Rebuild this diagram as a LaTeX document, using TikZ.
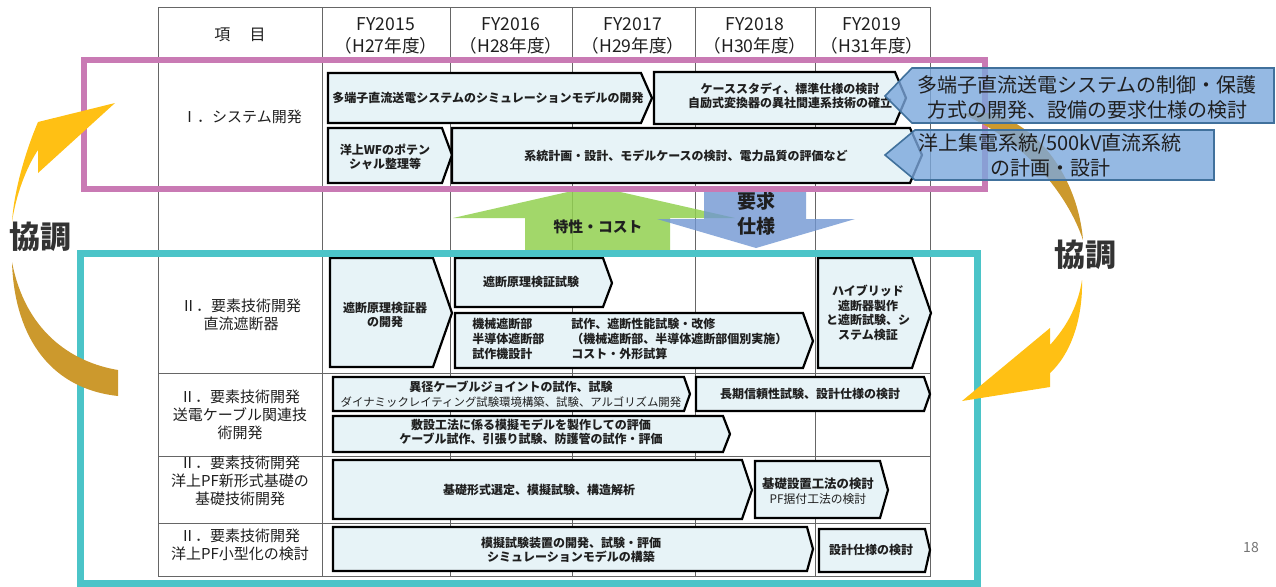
\documentclass[tikz,border=0pt]{standalone}
\usepackage{fontspec}
\setmainfont{Noto Sans CJK JP}
\definecolor{barfill}{RGB}{231,243,247}
\definecolor{purpleframe}{RGB}{201,122,180}
\definecolor{tealframe}{RGB}{75,196,200}
\definecolor{greenarr}{RGB}{146,208,80}
\definecolor{bluearr}{RGB}{112,150,210}
\definecolor{callfill}{RGB}{123,167,220}
\definecolor{callline}{RGB}{65,113,156}
\definecolor{yellowarc}{RGB}{255,192,20}
\definecolor{brownarc}{RGB}{204,153,45}
\begin{document}
\begin{tikzpicture}[x=0.5pt, y=-0.5pt, line join=miter,
    every node/.style={inner sep=0pt, text=black!88},
    gridline/.style={black!60, line width=0.5pt},
    taskbar/.style={draw=black, line width=1.1pt, fill=barfill},
    bartxt/.style={font=\fontsize{6}{7.3}\selectfont\bfseries, align=center},
    hdrtxt/.style={font=\fontsize{8.8}{11}\selectfont, align=center},
    rowtxt/.style={font=\fontsize{7.5}{9}\selectfont, align=center},
    boxframe/.style={line width=3.2pt},
    calloutbox/.style={fill=callfill, fill opacity=0.8, draw=callline, line width=0.8pt},
    callouttxt/.style={font=\fontsize{10}{12.5}\selectfont, align=center},
    kyochotxt/.style={font=\fontsize{15.5}{16}\selectfont\bfseries, text=black!80}]

    \useasboundingbox (0,0) rectangle (1276,586);

    % ================= table grid =================
    \draw[gridline] (158,7) rectangle (930,576);
    \draw[gridline] (322,7) -- (322,576) (450,7) -- (450,576) (572,7) -- (572,576)
                    (695,7) -- (695,576) (815,7) -- (815,576);
    \draw[gridline] (158,62) -- (930,62) (158,190) -- (930,190) (158,253) -- (930,253)
                    (158,373) -- (930,373) (158,456) -- (930,456) (158,523) -- (930,523);

    % header
    \node[hdrtxt, font=\fontsize{8}{10}\selectfont] (item) at (240,35) {項\hspace{1.2em}目};
    \node[hdrtxt] (fy15) at (386,36) {FY2015\\（H27年度）};
    \node[hdrtxt] (fy16) at (511,36) {FY2016\\（H28年度）};
    \node[hdrtxt] (fy17) at (633,36) {FY2017\\（H29年度）};
    \node[hdrtxt] (fy18) at (755,36) {FY2018\\（H30年度）};
    \node[hdrtxt] (fy19) at (872,36) {FY2019\\（H31年度）};

    % row labels
    \node[rowtxt] (sysdev) at (242,117) {Ⅰ．システム開発};
    \node[rowtxt] (dcbreaker) at (241,315) {Ⅱ．要素技術開発\\直流遮断器};
    \node[rowtxt] (cable) at (240,415) {Ⅱ．要素技術開発\\送電ケーブル関連技\\術開発};
    \node[rowtxt] (pffound) at (240,481) {Ⅱ．要素技術開発\\洋上PF新形式基礎の\\基礎技術開発};
    \node[rowtxt] (pfsmall) at (240,545) {Ⅱ．要素技術開発\\洋上PF小型化の検討};

    % ================= arrows between the two frames =================
    \fill[greenarr, fill opacity=0.85] (525,250) -- (525,218) -- (453,218) -- (594,186)
        -- (735,218) -- (670,218) -- (670,250) -- cycle;
    \fill[bluearr, fill opacity=0.8] (704,192) -- (806,192) -- (806,219) -- (855,219)
        -- (756,248) -- (657,219) -- (704,219) -- cycle;
    \node[font=\fontsize{7.4}{9}\selectfont\bfseries] (cost) at (598,227) {特性・コスト};
    \node[font=\fontsize{9.5}{12.5}\selectfont\bfseries, align=center] (reqspec) at (756,214) {要求\\仕様};

    % ================= I. system development =================
    \draw[taskbar] (328,73) -- (641,73) -- (652,98) -- (641,123) -- (328,123) -- cycle;
    \node[bartxt] (simmodel) at (488,98) {多端子直流送電システムのシミュレーションモデルの開発};
    \draw[taskbar] (654,72) -- (895,72) -- (906,98) -- (895,124) -- (654,124) -- cycle;
    \node[bartxt] (casestudy) at (790,96) {ケーススタディ、標準仕様の検討\\自励式変換器の異社間連系技術の確立};
    \draw[taskbar] (328,128) -- (442,128) -- (452,155) -- (442,183) -- (328,183) -- cycle;
    \node[bartxt] (wfpot) at (385,157) {洋上WFのポテン\\シャル整理等};
    \draw[taskbar] (452,128) -- (910,128) -- (922,155) -- (910,183) -- (452,183) -- cycle;
    \node[bartxt] (sysplan) at (686,156) {系統計画・設計、モデルケースの検討、電力品質の評価など};

    % ================= II. DC breaker =================
    \draw[taskbar] (330,258) -- (433,258) -- (452,313) -- (433,367) -- (330,367) -- cycle;
    \node[bartxt] (protodev) at (385,315) {遮断原理検証器\\の開発};
    \draw[taskbar] (455,258) -- (603,258) -- (612,283) -- (603,307) -- (455,307) -- cycle;
    \node[bartxt] (prooftest) at (531,282) {遮断原理検証試験};
    \draw[taskbar] (455,313) -- (803,313) -- (813,341) -- (803,368) -- (455,368) -- cycle;
    \node[bartxt, align=left, anchor=west, font=\fontsize{6}{7.5}\selectfont\bfseries] (bkparts) at (472,339) {機械遮断部\\半導体遮断部\\試作機設計};
    \node[bartxt, align=left, anchor=west, font=\fontsize{6}{7.5}\selectfont\bfseries] (bktests) at (571,339) {試作、遮断性能試験・改修\\（機械遮断部、半導体遮断部個別実施）\\コスト・外形試算};
    \draw[taskbar] (818,258) -- (912,258) -- (931,313) -- (912,368) -- (818,368) -- cycle;
    \node[bartxt] (hybrid) at (868,313) {ハイブリッド\\遮断器製作\\と遮断試験、シ\\ステム検証};

    % ================= II. cable =================
    \draw[taskbar] (333,377) -- (684,377) -- (690,394) -- (684,411) -- (333,411) -- cycle;
    \node[bartxt] (joint) at (511,394) {異径ケーブルジョイントの試作、試験\\{\mdseries\fontsize{5.7}{7.3}\selectfont ダイナミックレイティング試験環境構築、試験、アルゴリズム開発}};
    \draw[taskbar] (696,377) -- (924,377) -- (930,394) -- (924,411) -- (696,411) -- cycle;
    \node[bartxt] (longterm) at (810,394) {長期信頼性試験、設計仕様の検討};
    \draw[taskbar] (333,416) -- (723,416) -- (730,434) -- (723,452) -- (333,452) -- cycle;
    \node[bartxt] (laying) at (531,432) {敷設工法に係る模擬モデルを製作しての評価\\ケーブル試作、引張り試験、防護管の試作・評価};

    % ================= II. PF foundation / downsizing =================
    \draw[taskbar] (333,460) -- (742,460) -- (752,490) -- (742,519) -- (333,519) -- cycle;
    \node[bartxt] (foundtype) at (539,490) {基礎形式選定、模擬試験、構造解析};
    \draw[taskbar] (755,461) -- (880,461) -- (888,490) -- (880,518) -- (755,518) -- cycle;
    \node[bartxt, font=\fontsize{6.2}{7.5}\selectfont\bfseries] (install) at (818,491) {基礎設置工法の検討\\{\mdseries\fontsize{5.9}{7.5}\selectfont PF据付工法の検討}};
    \draw[taskbar] (333,527) -- (807,527) -- (813,549) -- (807,571) -- (333,571) -- cycle;
    \node[bartxt] (simtest) at (571,550) {模擬試験装置の開発、試験・評価\\シミュレーションモデルの構築};
    \draw[taskbar] (819,529) -- (925,529) -- (930,550) -- (925,572) -- (819,572) -- cycle;
    \node[bartxt] (designspec) at (871,550) {設計仕様の検討};

    % ================= frames =================
    \draw[boxframe, purpleframe] (84,60) rectangle (985,189);
    \draw[boxframe, tealframe, line width=3.5pt] (80,253) rectangle (977,583);

    % ================= curved arrows (協調) =================
    % left
    \fill[brownarc] (12,262) .. controls (14,330) and (45,388) .. (118,396) -- (118,370)
        .. controls (70,362) and (25,330) .. (12,262) -- cycle;
    \fill[yellowarc] (12,222) .. controls (14,190) and (26,150) .. (38,122) -- (115,103)
        -- (38,173) -- (38,150) .. controls (26,168) and (16,195) .. (12,222) -- cycle;
    % right
    \fill[brownarc] (960,113) -- (990,113) .. controls (1040,125) and (1078,180) .. (1083,240)
        .. controls (1068,195) and (1025,140) .. (960,113) -- cycle;
    \fill[yellowarc] (1082,280) .. controls (1083,320) and (1070,355) .. (1050,373)
        -- (1050,387) -- (962,401) -- (1050,328) -- (1050,345)
        .. controls (1068,325) and (1078,305) .. (1082,280) -- cycle;
    \node[kyochotxt] (kyoL) at (41,237) {協調};
    \node[kyochotxt] (kyoR) at (1085,255) {協調};

    % ================= callouts =================
    \draw[calloutbox] (912,68) -- (1274,68) -- (1274,123) -- (912,123) -- (885,96) -- cycle;
    \node[callouttxt] (ctrlprot) at (1087,97) {多端子直流送電システムの制御・保護\\方式の開発、設備の要求仕様の検討};
    \draw[calloutbox] (915,130) -- (1214,130) -- (1214,180) -- (915,180) -- (885,155) -- cycle;
    \node[callouttxt] (collect) at (1050,155) {洋上集電系統/500kV直流系統\\の計画・設計};

    % page number
    \node[font=\fontsize{7}{8}\selectfont, text=black!55] (pageno) at (1251,547) {18};
\end{tikzpicture}
\end{document}
